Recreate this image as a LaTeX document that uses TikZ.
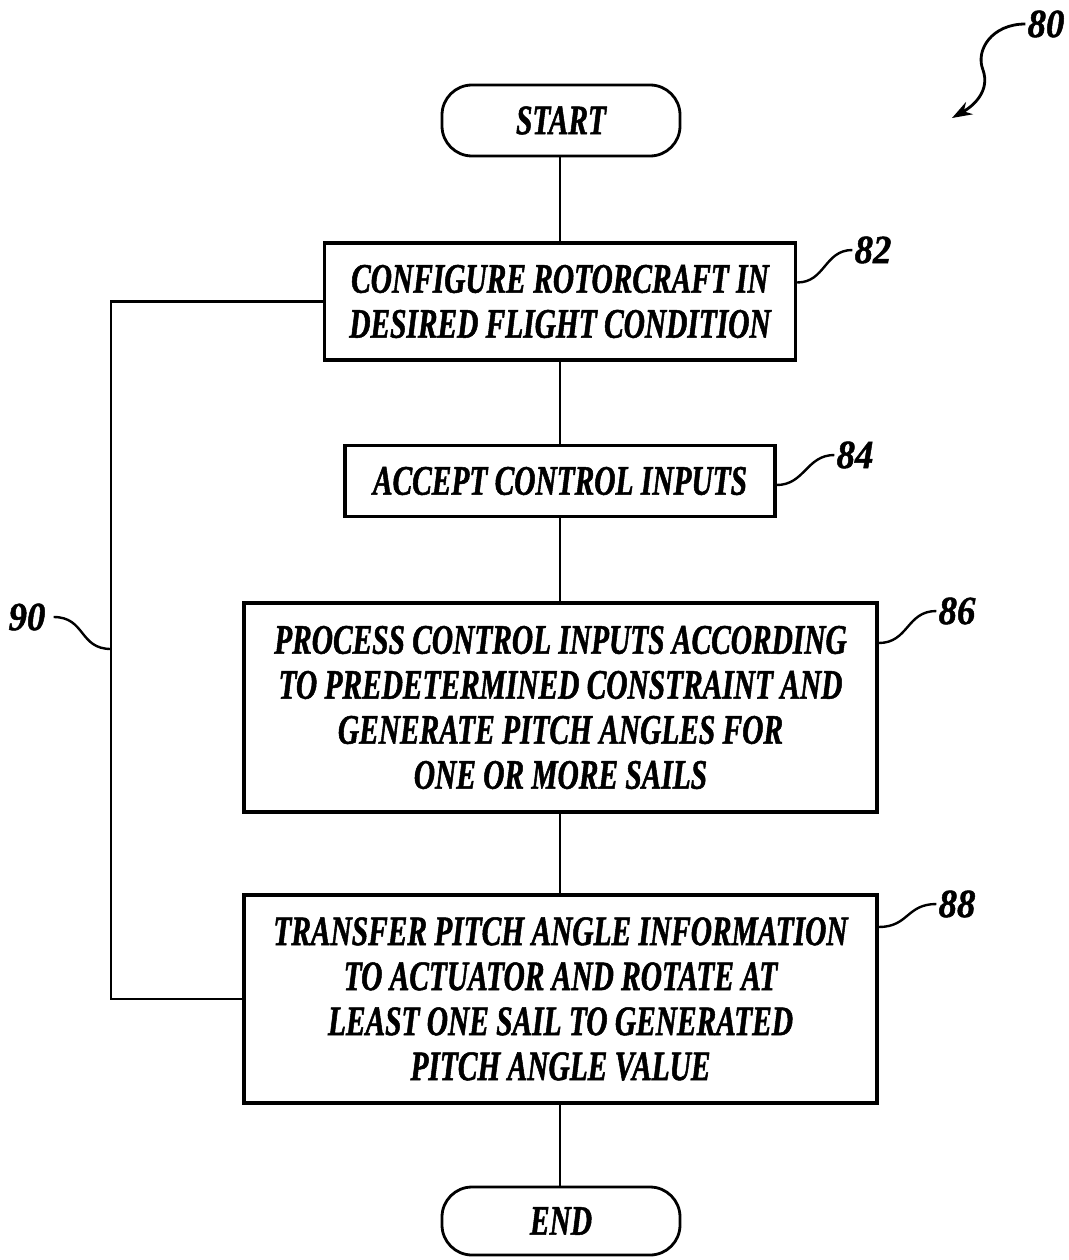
\documentclass[tikz,border=0pt]{standalone}
\usepackage{fontspec}
\setmainfont{Liberation Serif}[FakeStretch=0.70, FakeBold=1.2]
\newfontfamily\numfont{Liberation Serif}[FakeStretch=0.92, FakeBold=1.2]
\usetikzlibrary{arrows.meta}
\tikzset{
  boxtext/.style={font=\fontsize{42}{45}\selectfont\bfseries\itshape},
  procbox/.style={draw, line width=3.4pt, inner sep=0pt, align=center, boxtext},
  termbox/.style={draw, line width=2.8pt, rounded corners=30pt, inner sep=0pt,
                  minimum width=238pt, minimum height=71pt, boxtext},
  conn/.style={line width=2.5pt},
  lead/.style={line width=2.4pt},
  refnum/.style={font=\numfont\fontsize{40}{42}\selectfont\bfseries\itshape, inner sep=2pt}
}
\begin{document}
\begin{tikzpicture}[x=1pt,y=-1pt]
\useasboundingbox (0,0) rectangle (1068,1260);
\fill[white] (0,0) rectangle (1068,1260);

\node[termbox] (start) at (561,120.5) {START};
\node[procbox, minimum width=471pt, minimum height=117pt] (b82) at (560,301.5)
  {CONFIGURE ROTORCRAFT IN\\DESIRED FLIGHT CONDITION};
\node[procbox, minimum width=430pt, minimum height=71pt] (b84) at (560,481)
  {ACCEPT CONTROL INPUTS};
\node[procbox, minimum width=633pt, minimum height=209pt] (b86) at (560.5,707.5)
  {PROCESS CONTROL INPUTS ACCORDING\\TO PREDETERMINED CONSTRAINT AND\\GENERATE PITCH ANGLES FOR\\ONE OR MORE SAILS};
\node[procbox, minimum width=633pt, minimum height=208pt] (b88) at (560.5,999)
  {TRANSFER PITCH ANGLE INFORMATION\\TO ACTUATOR AND ROTATE AT\\LEAST ONE SAIL TO GENERATED\\PITCH ANGLE VALUE};
\node[termbox, minimum height=68pt] (end) at (561,1221) {END};

% main flow
\draw[conn] (start.south -| 560,0) -- (b82.north -| 560,0);
\draw[conn] (b82.south -| 560,0) -- (b84.north -| 560,0);
\draw[conn] (b84.south -| 560,0) -- (b86.north -| 560,0);
\draw[conn] (b86.south -| 560,0) -- (b88.north -| 560,0);
\draw[conn] (b88.south -| 560,0) -- (end.north -| 560,0);

% loop 90
\coordinate (c90) at (111,649);
\draw[conn] (b82.west) -- (b82.west -| c90) -- (b88.west -| c90) -- (b88.west);

% reference numerals
\node[refnum] (n80) at (1046,24) {80};
\node[refnum] (n82) at (873,250) {82};
\node[refnum] (n84) at (855,455) {84};
\node[refnum] (n86) at (957,611) {86};
\node[refnum] (n88) at (957,904) {88};
\node[refnum] (n90) at (27,617) {90};

\draw[lead] ([yshift=19pt]b82.east) .. controls +(28,0) and ([xshift=-28pt]n82.west) .. (n82.west);
\draw[lead] ([yshift=-4pt]b84.east) .. controls +(28,0) and ([xshift=-28pt]n84.west) .. (n84.west);
\draw[lead] ([yshift=64.5pt]b86.east) .. controls +(30,0) and ([xshift=-30pt]n86.west) .. (n86.west);
\draw[lead] ([yshift=72pt]b88.east) .. controls +(30,0) and ([xshift=-30pt]n88.west) .. (n88.west);
\draw[lead] ([xshift=6pt]n90.east) .. controls +(32,0) and ([xshift=-32pt]c90) .. (c90);
\draw[lead, line width=2.8pt, -{Stealth[length=20pt,width=14pt]}] (n80.west)
  .. controls (992,24) and (975,50) .. (983,70)
  .. controls (990,90) and (975,105) .. (952,118);
\end{tikzpicture}
\end{document}
